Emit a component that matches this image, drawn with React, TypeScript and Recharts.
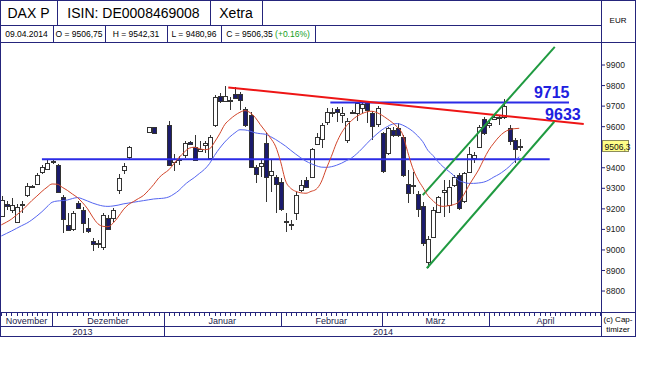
import React from 'react';
import { ComposedChart, Bar, Line, XAxis, YAxis, ReferenceLine, ReferenceDot } from 'recharts';

const NAVY = '#25257c';
const FONT = "'Liberation Sans', Arial, sans-serif";

// one slot per weekday, starting Mon 18.11.2013; null = no trading (holidays)
const opens = [
  9168, 9222, 9194, 9138, 9215, 9267, 9312, 9321, 9376, 9397,
  9432, 9413, 9259, 9122, 9105, 9230, 9194, 9105, 9044, 9030,
  9016, 9154, 9154, 9295, 9389, 9451, null, null, null, 9572,
  9597, null, null, 9608, 9428, 9436, 9462, 9525, 9503, 9480,
  9512, 9451, 9608, 9749, 9726, 9729, 9757, 9757, 9684, 9657,
  9402, 9409, 9522, 9365, 9357, 9332, 9135, 9120, 9178, 9292,
  9340, 9353, 9519, 9538, 9624, 9665, 9684, 9657, 9535, 9668,
  9665, 9689, 9722, 9668, 9613, 9568, 9470, 9584, 9592, 9551,
  9321, 9312, 9274, 9214, 8945, 9064, 9186, 9278, 9218, 9316,
  9364, 9235, 9381, 9446, 9499, 9635, 9608, 9640, 9645, 9645,
  9592, 9535, 9506.75,
];
const highs = [
  9262, 9240, 9251, 9224, 9240, 9324, 9316, 9373, 9413, 9438,
  9440, 9420, 9267, 9178, 9191, 9240, 9211, 9154, 9057, 9049,
  9178, 9170, 9203, 9368, 9422, 9506, null, null, null, 9600,
  9600, null, null, 9629, 9467, 9457, 9530, 9530, 9559, 9530,
  9532, 9559, 9754, 9762, 9798, 9746, 9795, 9770, 9697, 9673,
  9413, 9441, 9568, 9438, 9365, 9349, 9178, 9146, 9284, 9340,
  9357, 9495, 9568, 9619, 9689, 9689, 9697, 9694, 9640, 9680,
  9722, 9717, 9727, 9678, 9700, 9576, 9600, 9600, 9616, 9559,
  9389, 9378, 9285, 9231, 9070, 9211, 9262, 9340, 9340, 9364,
  9373, 9381, 9499, 9478, 9608, 9645, 9632, 9657, 9657, 9733,
  9608, 9543, 9542.31,
];
const lows = [
  9158, 9195, 9178, 9130, 9180, 9259, 9304, 9316, 9370, 9392,
  9418, 9276, 9081, 9092, 9094, 9202, 9081, 9081, 8997, 9008,
  9000, 9097, 9138, 9272, 9370, 9438, null, null, null, 9568,
  9565, null, null, 9408, 9386, 9413, 9446, 9511, 9438, 9478,
  9474, 9446, 9600, 9717, 9722, 9681, 9733, 9681, 9600, 9397,
  9324, 9357, 9235, 9284, 9181, 9191, 9089, 9097, 9146, 9284,
  9300, 9349, 9511, 9494, 9608, 9649, 9624, 9616, 9519, 9660,
  9629, 9665, 9619, 9535, 9600, 9373, 9462, 9551, 9551, 9357,
  9230, 9270, 9162, 9018, 8911, 9057, 9181, 9162, 9178, 9308,
  9194, 9227, 9373, 9421, 9494, 9559, 9592, 9632, 9608, 9635,
  9511, 9421, 9480.96,
];
const closes = [
  9245, 9210, 9218, 9211, 9222, 9311, 9308, 9365, 9402, 9425,
  9428, 9284, 9154, 9097, 9181, 9207, 9130, 9089, 9029, 9034,
  9170, 9100, 9194, 9352, 9408, 9499, null, null, null, 9597,
  9568, null, null, 9413, 9444, 9441, 9519, 9516, 9441, 9490,
  9522, 9551, 9743, 9726, 9749, 9724, 9738, 9730, 9608, 9405,
  9370, 9425, 9357, 9386, 9321, 9203, 9140, 9126, 9268, 9316,
  9305, 9490, 9551, 9608, 9673, 9670, 9670, 9668, 9629, 9672,
  9713, 9709, 9681, 9603, 9689, 9381, 9592, 9559, 9559, 9365,
  9277, 9318, 9203, 9032, 9055, 9194, 9257, 9290, 9308, 9356,
  9202, 9373, 9467, 9462, 9596, 9567, 9618, 9648, 9638, 9700,
  9527, 9491.2, 9506.35,
];
// moving averages
const fastMA = [
  9122, 9135, 9150, 9170, 9190, 9215, 9240, 9262, 9285, 9305,
  9321, 9320, 9305, 9290, 9272, 9255, 9230, 9200, 9160, 9128,
  9115, 9113, 9130, 9160, 9195, 9220, 9235, 9250, 9265, 9290,
  9318, 9350, 9372, 9390, 9420, 9450, 9475, 9495, 9500, 9493,
  9488, 9492, 9525, 9565, 9610, 9635, 9655, 9670, 9678, 9668,
  9645, 9610, 9578, 9545, 9505, 9430, 9335, 9300, 9285, 9278,
  9276, 9285, 9295, 9330, 9395, 9455, 9520, 9570, 9605, 9630,
  9650, 9663, 9672, 9675, 9668, 9655, 9638, 9620, 9598, 9565,
  9480, 9400, 9345, 9305, 9265, 9240, 9218, 9212, 9215, 9220,
  9232, 9265, 9310, 9350, 9390, 9440, 9486, 9520, 9550, 9572,
  9585, 9590, 9592,
];
const slowMA = [
  9068, 9080, 9092, 9105, 9118, 9130, 9146, 9165, 9186, 9210,
  9232, 9238, 9240, 9243, 9250, 9255, 9248, 9238, 9228, 9220,
  9214, 9212, 9214, 9218, 9224, 9228, 9232, 9236, 9240, 9244,
  9248, 9250, 9252, 9258, 9272, 9290, 9315, 9335, 9352, 9372,
  9392, 9420, 9460, 9495, 9525, 9550, 9570, 9585, 9584, 9578,
  9570, 9566, 9563, 9552, 9538, 9522, 9505, 9485, 9466, 9448,
  9432, 9420, 9410, 9403, 9402, 9405, 9412, 9422, 9435, 9448,
  9468, 9492, 9518, 9543, 9565, 9585, 9600, 9612, 9615, 9608,
  9595, 9578, 9555, 9527, 9485, 9460, 9430, 9405, 9385, 9365,
  9340, 9330, 9324, 9324, 9326, 9330, 9340, 9355, 9368, 9385,
  9405, 9430, 9454,
];

const X_MIN = -0.06;
const X_MAX = 118.3;
const Y_MIN = 8698;
const Y_MAX = 10012;
const slotCount = 119; // weekdays 18.11.2013 - 30.04.2014
const yTicks = [8800, 8900, 9000, 9100, 9200, 9300, 9400, 9600, 9700, 9800, 9900];
const monthNames = ['November', 'Dezember', 'Januar', 'Februar', 'März', 'April'];
const monthStarts = [0, 10, 32, 55, 75, 96];
const yearNames = ['2013', '2014'];
const yearStarts = [0, 32];

// drawn lines (slot index, price)
const supportLine = [{ x: 8, y: 9441 }, { x: 108, y: 9441 }];
const resistanceLine = [{ x: 64.8, y: 9718 }, { x: 111.8, y: 9718 }];
const downTrend = [{ x: 44.7, y: 9791 }, { x: 114.7, y: 9613 }];
const channelLow = [{ x: 83.8, y: 8911 }, { x: 108.9, y: 9624 }];
const channelHigh = [{ x: 83.0, y: 9267 }, { x: 109.0, y: 9988 }];
const levelLabels = [
  { text: '9715', x: 108.4, y: 9764 },
  { text: '9633', x: 110.6, y: 9657 },
];
const lastIdx = opens.length - 1;
const lastClose = 9506.3;

const rows = opens.map((o, i) => ({
  i,
  o,
  h: highs[i],
  l: lows[i],
  c: closes[i],
  range: o == null ? null : [lows[i], highs[i]],
  fast: fastMA[i],
  slow: slowMA[i],
}));

const bounds = (starts: number[]) =>
  starts.map((s, k) => [k === 0 ? X_MIN : s, k + 1 < starts.length ? starts[k + 1] : X_MAX]);
const monthCenters = bounds(monthStarts).map(([a, b]) => (a + b) / 2);
const yearCenters = bounds(yearStarts).map(([a, b]) => (a + b) / 2);

const dayTicks = Array.from({ length: slotCount }, (_, k) => k);
const monthTicks = Array.from(new Set([...dayTicks, ...monthCenters])).sort((a, b) => a - b);
const yearTicks = Array.from(new Set([...yearStarts.slice(1), ...yearCenters])).sort((a, b) => a - b);

const near = (list: number[], v: number) => list.findIndex((c) => Math.abs(c - v) < 1e-6);

const Candle = (props: any) => {
  const { x, y, width, height, payload } = props;
  if (!payload || payload.o == null || !isFinite(y)) return <g />;
  const { o, h, l, c } = payload;
  const top = Math.min(y, y + height);
  const hh = Math.abs(height);
  const k = hh / (h - l || 1);
  const yo = top + (h - o) * k;
  const yc = top + (h - c) * k;
  const cx = Math.round(x + width / 2);
  const bTop = Math.round(Math.min(yo, yc));
  const bH = Math.max(1, Math.round(Math.abs(yo - yc)));
  const up = c >= o;
  return (
    <g>
      <line x1={cx + 0.5} x2={cx + 0.5} y1={Math.round(top)} y2={Math.round(top + hh)} stroke="#333" />
      <rect x={cx - 1.5} y={bTop + 0.5} width={4} height={bH} fill={up ? '#fff' : '#1b1b6c'} stroke="#333" />
    </g>
  );
};

const MonthTick = (props: any) => {
  const { x, y, payload } = props;
  const v = payload.value;
  const px = Math.round(x) + 0.5;
  const ci = near(monthCenters, v);
  return (
    <g>
      {Number.isInteger(v) && <line x1={px} x2={px} y1={y + 1} y2={y + 4} stroke={NAVY} />}
      {monthStarts.indexOf(v) > 0 && <line x1={px} x2={px} y1={y} y2={y + 14} stroke={NAVY} />}
      {ci >= 0 && (
        <text x={x} y={y + 11.5} textAnchor="middle" fontSize={9} fontFamily={FONT} fill="#1c1c4c">
          {monthNames[ci]}
        </text>
      )}
    </g>
  );
};

const YearTick = (props: any) => {
  const { x, y, payload } = props;
  const v = payload.value;
  const px = Math.round(x) + 0.5;
  const ci = near(yearCenters, v);
  return (
    <g>
      {yearStarts.indexOf(v) > 0 && <line x1={px} x2={px} y1={y} y2={y + 10} stroke={NAVY} />}
      {ci >= 0 && (
        <text x={x} y={y + 8.5} textAnchor="middle" fontSize={9} fontFamily={FONT} fill="#1c1c4c">
          {yearNames[ci]}
        </text>
      )}
    </g>
  );
};

const PriceTag = (props: any) => {
  const { cx, cy } = props;
  const x0 = Math.round(cx) + 0.5;
  const y0 = Math.round(cy - 6) + 0.5;
  return (
    <g>
      <rect x={x0} y={y0} width={26} height={11} fill="#ffff88" stroke="#8c8c5a" />
      <text x={x0 + 2} y={y0 + 9} fontSize={8.5} fontFamily={FONT} fill="#111">
        {lastClose.toFixed(1).replace('.', ',')}
      </text>
    </g>
  );
};

const LevelText = (text: string) => (props: any) => (
  <text
    x={props.cx}
    y={props.cy}
    textAnchor="middle"
    dominantBaseline="central"
    fontSize={16}
    fontWeight="bold"
    fontFamily={FONT}
    fill="#2020e0"
  >
    {text}
  </text>
);

const HLine = ({ x1, x2, y }: any) => (
  <div style={{ position: 'absolute', left: x1, top: y, width: x2 - x1 + 1, height: 1, background: NAVY }} />
);
const VLine = ({ x, y1, y2 }: any) => (
  <div style={{ position: 'absolute', left: x, top: y1, width: 1, height: y2 - y1 + 1, background: NAVY }} />
);
const CellText = ({ x1, x2, y1, y2, size, children }: any) => (
  <div
    style={{
      position: 'absolute',
      left: x1,
      top: y1,
      width: x2 - x1,
      height: y2 - y1,
      display: 'flex',
      alignItems: 'center',
      justifyContent: 'center',
      fontSize: size,
      fontFamily: FONT,
      color: '#000',
      whiteSpace: 'nowrap',
      textAlign: 'center',
      lineHeight: 1.2,
    }}
  >
    {children}
  </div>
);

const fmt = (v: number) => v.toFixed(2).replace('.', ',');
const head1 = [
  [0, 57, 'DAX P'],
  [57, 210, 'ISIN: DE0008469008'],
  [210, 262, 'Xetra'],
];
const head2 = [
  [0, 53, '09.04.2014'],
  [53, 105, `O = ${fmt(opens[lastIdx] as number)}`],
  [105, 167, `H = ${fmt(highs[lastIdx] as number)}`],
  [167, 221, `L = ${fmt(lows[lastIdx] as number)}`],
];

export default function App() {
  return (
    <div style={{ position: 'absolute', left: 0, top: 0, width: 650, height: 365, background: '#fff' }}>
      {/* header */}
      {head1.map(([a, b, t]) => (
        <CellText key={t as string} x1={a} x2={b} y1={1} y2={25} size={14}>{t}</CellText>
      ))}
      {head2.map(([a, b, t]) => (
        <CellText key={t as string} x1={a} x2={b} y1={26} y2={42} size={8.5}>{t}</CellText>
      ))}
      <CellText x1={221} x2={315} y1={26} y2={42} size={8.5}>
        <span>C = {fmt(closes[lastIdx] as number)}&nbsp;</span>
        <span style={{ color: '#10a020' }}>(+0.16%)</span>
      </CellText>
      <CellText x1={601} x2={635} y1={1} y2={40} size={8}>EUR</CellText>
      <CellText x1={601} x2={635} y1={313} y2={336} size={8}>
        (c) Cap-<br />timizer
      </CellText>

      <div style={{ position: 'absolute', left: 0, top: 42 }}>
        <ComposedChart width={636} height={294} data={rows} margin={{ top: 0, right: 0, left: 1, bottom: 0 }}>
          <XAxis
            dataKey="i"
            type="number"
            domain={[X_MIN, X_MAX]}
            allowDataOverflow
            ticks={monthTicks}
            interval={0}
            height={14}
            axisLine={false}
            tickLine={false}
            tickSize={0}
            tickMargin={0}
            tick={(p: any) => <MonthTick {...p} />}
          />
          <XAxis
            xAxisId="yr"
            dataKey="i"
            type="number"
            domain={[X_MIN, X_MAX]}
            allowDataOverflow
            ticks={yearTicks}
            interval={0}
            height={10}
            axisLine={false}
            tickLine={false}
            tickSize={0}
            tickMargin={0}
            tick={(p: any) => <YearTick {...p} />}
          />
          <YAxis
            orientation="right"
            type="number"
            domain={[Y_MIN, Y_MAX]}
            allowDataOverflow
            ticks={yTicks}
            interval={0}
            width={34}
            axisLine={false}
            tickSize={3}
            tickMargin={1}
            tickLine={{ stroke: NAVY }}
            tick={{ fontSize: 8.5, fill: '#222', fontFamily: FONT }}
          />
          <ReferenceLine segment={supportLine} stroke="#2b2be6" strokeWidth={2} />
          <ReferenceLine segment={resistanceLine} stroke="#2b2be6" strokeWidth={2} />
          <ReferenceLine segment={downTrend} stroke="#ee1515" strokeWidth={2} />
          <ReferenceLine segment={channelLow} stroke="#1f9a40" strokeWidth={2} />
          <ReferenceLine segment={channelHigh} stroke="#1f9a40" strokeWidth={2} />
          <Bar dataKey="range" barSize={4} shape={(p: any) => <Candle {...p} />} isAnimationActive={false} />
          <Line dataKey="slow" type="monotone" stroke="#5565f0" strokeWidth={1} dot={false} isAnimationActive={false} />
          <Line dataKey="fast" type="monotone" stroke="#d2452a" strokeWidth={1} dot={false} isAnimationActive={false} />
          {levelLabels.map((lb) => (
            <ReferenceDot key={lb.text} x={lb.x} y={lb.y} r={0} shape={LevelText(lb.text)} ifOverflow="visible" />
          ))}
          <ReferenceDot x={X_MAX} y={lastClose} r={0} shape={(p: any) => <PriceTag {...p} />} ifOverflow="visible" />
        </ComposedChart>
      </div>

      {/* frame */}
      <HLine x1={0} x2={635} y={0} />
      <HLine x1={0} x2={601} y={25} />
      <HLine x1={0} x2={635} y={42} />
      <HLine x1={0} x2={635} y={312} />
      <HLine x1={0} x2={601} y={326} />
      <HLine x1={0} x2={635} y={336} />
      <VLine x={0} y1={0} y2={336} />
      <VLine x={601} y1={0} y2={336} />
      <VLine x={635} y1={0} y2={336} />
      <VLine x={57} y1={0} y2={25} />
      <VLine x={210} y1={0} y2={25} />
      <VLine x={262} y1={0} y2={25} />
      <VLine x={53} y1={25} y2={42} />
      <VLine x={105} y1={25} y2={42} />
      <VLine x={167} y1={25} y2={42} />
      <VLine x={221} y1={25} y2={42} />
      <VLine x={315} y1={25} y2={42} />
    </div>
  );
}
